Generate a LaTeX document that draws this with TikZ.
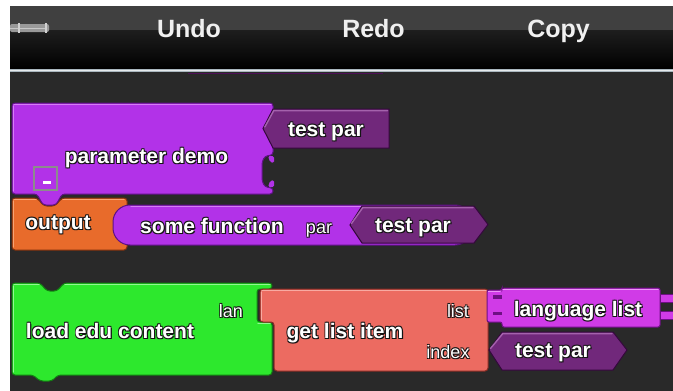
\documentclass[tikz,border=0pt]{standalone}
\usepackage{fontspec}
\setmainfont{Liberation Sans}

% palette
\definecolor{bgc}{HTML}{292929}
\definecolor{barup}{HTML}{404040}
\definecolor{barmid}{HTML}{1E1E1E}
\definecolor{rulec}{HTML}{A9B6BE}
\definecolor{stripc}{HTML}{4E1058}
\definecolor{P}{HTML}{B232E8}
\definecolor{Plt}{HTML}{D67CF6}
\definecolor{Pdk}{HTML}{5E1284}
\definecolor{D}{HTML}{71287B}
\definecolor{Dlt}{HTML}{A462AC}
\definecolor{Ddk}{HTML}{34083C}
\definecolor{O}{HTML}{E86B2B}
\definecolor{Olt}{HTML}{F6A474}
\definecolor{Odk}{HTML}{7E300E}
\definecolor{G}{HTML}{2DE82D}
\definecolor{Glt}{HTML}{92F892}
\definecolor{Gdk}{HTML}{128012}
\definecolor{R}{HTML}{EC6B61}
\definecolor{Rlt}{HTML}{F8AAA2}
\definecolor{Rdk}{HTML}{842C24}
\definecolor{M}{HTML}{D03BE7}
\definecolor{Mlt}{HTML}{EC94F8}
\definecolor{Mdk}{HTML}{6E1084}
\definecolor{shadowc}{HTML}{141414}

% white label with a dark halo
\newcommand{\outl}[1]{%
  \rlap{\textcolor{shadowc}{\kern1.1pt\raisebox{-1.1pt}{#1}}}%
  \rlap{\textcolor{shadowc}{\kern-0.7pt\raisebox{0.7pt}{#1}}}%
  \rlap{\textcolor{shadowc}{\kern0.7pt\raisebox{0.7pt}{#1}}}%
  \rlap{\textcolor{shadowc}{\kern-0.7pt\raisebox{-0.7pt}{#1}}}%
  \textcolor{white}{#1}}

\tikzset{
  blockedge/.style={line width=1pt, rounded corners=3pt},
  biglabel/.style={inner sep=0pt, anchor=mid, font=\bfseries\fontsize{21}{21}\selectfont},
  smalllabel/.style={inner sep=0pt, anchor=mid, font=\fontsize{18}{18}\selectfont},
  menulabel/.style={inner sep=0pt, anchor=base, text=white!94!black, font=\bfseries\fontsize{25}{25}\selectfont},
  hilite/.style={line width=1.4pt, line cap=round},
}

\begin{document}
\begin{tikzpicture}[x=1pt,y=-1pt]
\useasboundingbox (0,0) rectangle (673,391);
\fill[white] (0,0) rectangle (673,391);
\fill[bgc] (10,6) rectangle (673,391);

% menu bar
\fill[barup] (10,6) rectangle (673,30);
\shade[top color=barmid, bottom color=black] (10,30) rectangle (673,68.5);
\fill[rulec] (10,68.5) rectangle (673,72);
\draw[white!70!rulec, line width=0.8pt] (10,70) -- (673,70);
\fill[black!40, rounded corners=2pt] (10,24) rectangle (49,32);
\draw[black!22, line width=1pt] (10,28) -- (47,28);
\draw[black!18, line width=1.2pt] (19,23) -- (19,33) (46,23) -- (46,33);
\node[menulabel] (undo) at (189,37) {Undo};
\node[menulabel] (redo) at (373.5,37) {Redo};
\node[menulabel] (copy) at (558.5,37) {Copy};

% edge of a block above the visible area
\draw[stripc, line width=1.6pt] (188,73.6) -- (383,73.6);

% ---- output block ----
\filldraw[fill=O, draw=Odk, blockedge]
  (12,198) -- (37,198) -- (44,206) -- (55,206) -- (62,198) -- (127,198)
  -- (127,250) -- (12,250) -- cycle;
\draw[Olt, hilite] (14,199.5) -- (36,199.5) (63,199.5) -- (124,199.5);
\draw[Olt, hilite] (13.5,201) -- (13.5,247);

% ---- parameter demo block ----
\filldraw[fill=P, draw=Pdk, blockedge]
  (12,103) -- (273,103) -- (273,155) -- (265,156) -- (262,162) -- (262,181)
  -- (265,187) -- (273,188) -- (273,194) -- (62,194) -- (56,205) -- (43,205)
  -- (37,194) -- (12,194) -- cycle;
\draw[Plt, hilite] (14,104.5) -- (271,104.5);
\draw[Plt, hilite] (13.5,106) -- (13.5,191);
\fill[P, rounded corners=1.5pt] (268,156) -- (274,156) -- (274,163) -- (270,162) -- cycle;
\fill[P, rounded corners=1.5pt] (268,187) -- (274,187) -- (274,180) -- (270,181) -- cycle;
\draw[black!45, line width=1.1pt] (34,167) rectangle (57,190);
\fill[white] (43,180.8) rectangle (50.5,183.6);
\node[biglabel] (pdemo) at (146.5,161) {\outl{parameter demo}};

% ---- test par in the header slot ----
\filldraw[fill=D, draw=Ddk, line width=1pt]
  (273,109) -- (389,109) -- (389,148) -- (273,148) -- (263,128.5) -- cycle;
\draw[Dlt, hilite] (264.8,127) -- (273.8,110.6) -- (387.5,110.6);
\node[biglabel] (tpone) at (326,134) {\outl{test par}};

% ---- some function reporter ----
\filldraw[fill=P, draw=Pdk, line width=1pt, rounded corners=17pt]
  (113,205) rectangle (472,245);
\draw[Plt, hilite] (131,206.6) -- (460,206.6);
\node[biglabel] (sfun) at (212,231) {\outl{some function}};
\node[smalllabel] (parlbl) at (319,231) {\outl{par}};
\node[biglabel] (outp) at (58,227) {\outl{output}};

% ---- test par inside some function ----
\filldraw[fill=D, draw=Ddk, line width=1pt]
  (350,225) -- (362,206) -- (474,206) -- (488,224.5) -- (474,243) -- (362,243) -- cycle;
\draw[Dlt, hilite] (351.5,223.5) -- (362.8,207.6) -- (473,207.6);
\node[biglabel] (tptwo) at (413,230) {\outl{test par}};

% ---- load edu content block ----
\filldraw[fill=G, draw=Gdk, blockedge]
  (12,283) -- (40,283) -- (47,291) -- (57,291) -- (64,283) -- (272,283)
  -- (272,289) -- (257,289) -- (257,322) -- (272,322) -- (272,375)
  -- (58,375) -- (52,381) -- (40,381) -- (33,375) -- (12,375) -- cycle;
\draw[Glt, hilite] (14,284.5) -- (39,284.5) (65,284.5) -- (270,284.5);
\draw[Glt, hilite] (13.5,286) -- (13.5,372);
\draw[Glt, hilite] (258,323.5) -- (270,323.5);
\node[biglabel] (load) at (110,336) {\outl{load edu content}};
\node[smalllabel] (lan) at (231,315) {\outl{lan}};

% ---- get list item block ----
\filldraw[fill=R, draw=Rdk, blockedge]
  (260,289) -- (488,289) -- (488,371) -- (274,371) -- (274,322) -- (260,322) -- cycle;
\draw[Rlt, hilite] (262,290.5) -- (486,290.5);
\draw[Rlt, hilite] (261.5,292) -- (261.5,320);
\node[biglabel] (gli) at (345,336) {\outl{get list item}};
\node[smalllabel] (listlbl) at (458,315) {\outl{list}};
\node[smalllabel] (indexlbl) at (448,356) {\outl{index}};

% ---- language list reporter ----
\filldraw[fill=M, draw=Mdk, line width=1pt, rounded corners=2pt]
  (487,290) -- (502,290) -- (502,288) -- (660,288) -- (660,327)
  -- (502,327) -- (502,322) -- (487,322) -- cycle;
\fill[Mdk] (493,295) rectangle (502,298.5);
\fill[Mdk] (493,311.5) rectangle (502,315);
\filldraw[fill=M, draw=Mdk, line width=0.8pt] (660,294) rectangle (674,302);
\filldraw[fill=M, draw=Mdk, line width=0.8pt] (660,311) rectangle (674,319);
\draw[Mlt, hilite] (488.5,291.5) -- (500,291.5) (503,289.6) -- (658,289.6);
\node[biglabel] (lang) at (578,314) {\outl{language list}};

% ---- test par in the index slot ----
\filldraw[fill=D, draw=Ddk, line width=1pt]
  (489,350) -- (502,332) -- (613,332) -- (627,350) -- (613,370) -- (502,370) -- cycle;
\draw[Dlt, hilite] (490.5,348.5) -- (502.8,333.6) -- (612,333.6);
\node[biglabel] (tpthree) at (553,355) {\outl{test par}};
\end{tikzpicture}
\end{document}
